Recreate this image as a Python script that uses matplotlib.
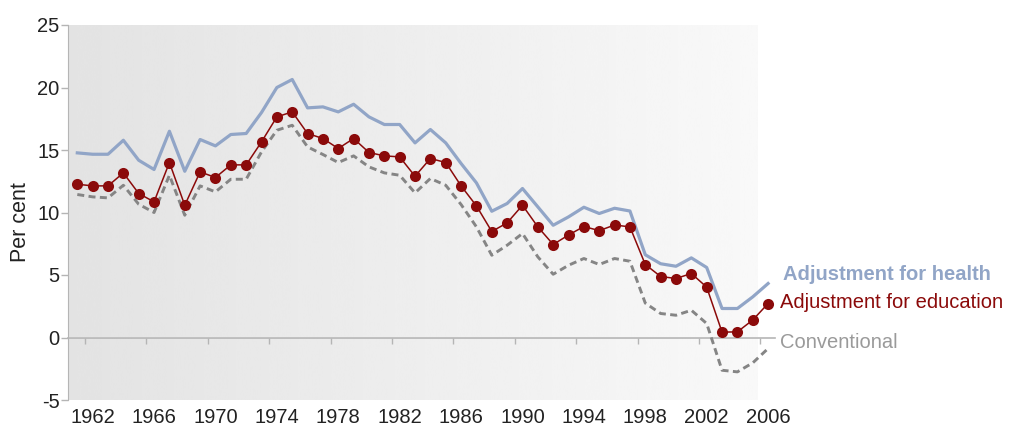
import numpy as np
import matplotlib
matplotlib.use("Agg")
import matplotlib.pyplot as plt

plt.rcParams["font.family"] = ["Liberation Sans", "DejaVu Sans"]
plt.rcParams["axes.unicode_minus"] = False

# Jahr 1961 - 2006
years = list(range(1961, 2007))

health = [14.77, 14.66, 14.66, 15.78, 14.18, 13.44, 16.5, 13.3, 15.84, 15.33,
          16.24, 16.32, 18.0, 20.0, 20.64, 18.37, 18.45, 18.05, 18.66, 17.65,
          17.04, 17.04, 15.57, 16.64, 15.57, 13.92, 12.37, 10.1, 10.72, 11.92,
          10.45, 8.98, 9.65, 10.42, 9.92, 10.34, 10.12, 6.62, 5.9, 5.7,
          6.37, 5.6, 2.32, 2.32, 3.25, 4.32]

education = [12.26, 12.13, 12.13, 13.17, 11.52, 10.85, 14.0, 10.58, 13.25, 12.8,
             13.81, 13.81, 15.65, 17.65, 18.05, 16.32, 15.92, 15.12, 15.92, 14.8,
             14.53, 14.45, 12.9, 14.32, 14.0, 12.13, 10.53, 8.48, 9.17, 10.58,
             8.85, 7.44, 8.2, 8.88, 8.55, 9.0, 8.85, 5.84, 4.88, 4.72,
             5.12, 4.03, 0.43, 0.45, 1.4, 2.72]

conventional = [11.44, 11.25, 11.17, 12.18, 10.66, 10.0, 12.98, 9.78, 12.13, 11.65,
                12.66, 12.66, 14.85, 16.58, 16.98, 15.25, 14.64, 14.0, 14.53, 13.65,
                13.17, 12.98, 11.57, 12.72, 12.18, 10.64, 8.85, 6.58, 7.38, 8.32,
                6.45, 5.06, 5.78, 6.32, 5.84, 6.32, 6.1, 2.75, 1.92, 1.78,
                2.18, 1.12, -2.62, -2.75, -2.03, -0.88]

tick_years = list(range(1962, 2007, 4))
y_ticks = [-5, 0, 5, 10, 15, 20, 25]

c_health = "#91a5c7"
c_edu = "#8b0a0a"
c_conv = "#858585"

fig = plt.figure(figsize=(10.09, 4.26), dpi=100)
ax = fig.add_axes([68 / 1009, 26 / 426, 707 / 1009, 375 / 426])
ax.set_facecolor("none")

x0, x1 = 1960.394, 2006.45
ax.set_xlim(x0, x1)
ax.set_ylim(-5, 25)

# grauer Verlauf im Hintergrund
grad = np.linspace(0.89, 0.975, 256).reshape(1, -1)
ax.imshow(grad, cmap="gray", vmin=0, vmax=1, aspect="auto",
          extent=[x0, 2005.28, -5, 25], zorder=0, interpolation="bicubic")

ax.plot(years, conventional, color=c_conv, lw=2.1, ls=(0, (2.4, 1.5)),
        dash_capstyle="butt", clip_on=False, zorder=3)
ax.plot(years, health, color=c_health, lw=2.3, clip_on=False, zorder=4)
ax.plot(years, education, color=c_edu, lw=1.1, marker="o", ms=8,
        markeredgewidth=0, clip_on=False, zorder=5)

# Beschriftung rechts
ax.text(2006.96, 4.58, "Adjustment for health", color=c_health,
        fontsize=14.5, fontweight="bold", va="baseline", clip_on=False)
ax.text(2006.78, 2.34, "Adjustment for education", color=c_edu,
        fontsize=14.5, va="baseline", clip_on=False)
ax.text(2006.78, -0.86, "Conventional", color="#9a9a9a",
        fontsize=14.5, va="baseline", clip_on=False)

for s in ["top", "right", "bottom"]:
    ax.spines[s].set_visible(False)
ax.spines["left"].set_color("#b5b5b5")

ax.set_yticks(y_ticks)
ax.tick_params(axis="y", length=5, width=1, color="#b5b5b5", pad=1,
               labelsize=14.5, labelcolor="#222222")
ax.set_xticks(tick_years)
ax.tick_params(axis="x", length=0, pad=6, labelsize=14.5, labelcolor="#222222")

# Nulllinie mit Tickmarken
zero = ax.secondary_xaxis(5 / 30)
zero.set_xticks([t - 0.5 for t in tick_years])
zero.set_xticklabels([])
zero.tick_params(axis="x", direction="out", length=4, width=1, color="#b5b5b5")
zero.spines["bottom"].set_color("#b5b5b5")
zero.spines["bottom"].set_linewidth(1.2)

ax.set_ylabel("Per cent", fontsize=15.5, color="#222222")
ax.yaxis.set_label_coords(-0.052, 0.475)

fig.savefig("out.png", dpi=100)
